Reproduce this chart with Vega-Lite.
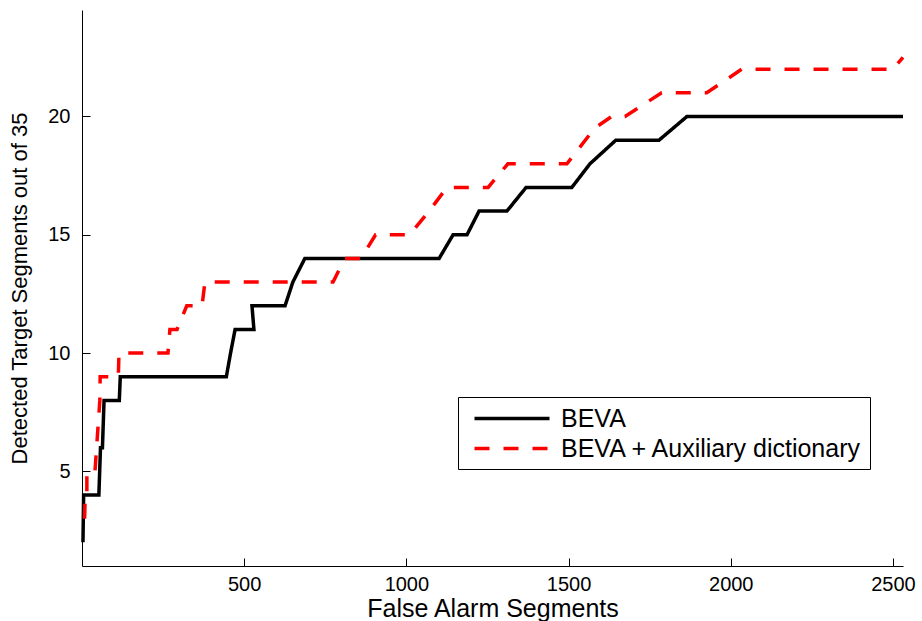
{
  "$schema": "https://vega.github.io/schema/vega-lite/v6.json",
  "width": 821,
  "height": 556,
  "autosize": {"type": "none"},
  "padding": {"left": 82, "top": 10, "right": 19, "bottom": 55},
  "background": "white",
  "config": {
    "view": {"stroke": null},
    "font": "Liberation Sans",
    "axis": {
      "grid": false,
      "domainColor": "black",
      "domainWidth": 1,
      "tickColor": "black",
      "tickWidth": 1,
      "tickSize": -8,
      "labelColor": "black",
      "labelFont": "Liberation Sans",
      "labelFontSize": 20,
      "titleFont": "Liberation Sans",
      "titleFontWeight": "normal",
      "titleColor": "black"
    }
  },
  "data": {
    "values": [
      {"method": "BEVA", "i": 0, "fa": 3, "det": 2},
      {"method": "BEVA", "i": 1, "fa": 5, "det": 4},
      {"method": "BEVA", "i": 2, "fa": 52, "det": 4},
      {"method": "BEVA", "i": 3, "fa": 57, "det": 6},
      {"method": "BEVA", "i": 4, "fa": 63, "det": 6},
      {"method": "BEVA", "i": 5, "fa": 68, "det": 8},
      {"method": "BEVA", "i": 6, "fa": 115, "det": 8},
      {"method": "BEVA", "i": 7, "fa": 118, "det": 9},
      {"method": "BEVA", "i": 8, "fa": 445, "det": 9},
      {"method": "BEVA", "i": 9, "fa": 458, "det": 10},
      {"method": "BEVA", "i": 10, "fa": 472, "det": 11},
      {"method": "BEVA", "i": 11, "fa": 530, "det": 11},
      {"method": "BEVA", "i": 12, "fa": 524, "det": 12},
      {"method": "BEVA", "i": 13, "fa": 626, "det": 12},
      {"method": "BEVA", "i": 14, "fa": 650, "det": 13},
      {"method": "BEVA", "i": 15, "fa": 687, "det": 14},
      {"method": "BEVA", "i": 16, "fa": 1101, "det": 14},
      {"method": "BEVA", "i": 17, "fa": 1144, "det": 15},
      {"method": "BEVA", "i": 18, "fa": 1187, "det": 15},
      {"method": "BEVA", "i": 19, "fa": 1224, "det": 16},
      {"method": "BEVA", "i": 20, "fa": 1310, "det": 16},
      {"method": "BEVA", "i": 21, "fa": 1369, "det": 17},
      {"method": "BEVA", "i": 22, "fa": 1510, "det": 17},
      {"method": "BEVA", "i": 23, "fa": 1566, "det": 18},
      {"method": "BEVA", "i": 24, "fa": 1646, "det": 19},
      {"method": "BEVA", "i": 25, "fa": 1779, "det": 19},
      {"method": "BEVA", "i": 26, "fa": 1865, "det": 20},
      {"method": "BEVA", "i": 27, "fa": 2531, "det": 20},

      {"method": "BEVA + Auxiliary dictionary", "i": 0, "fa": 8, "det": 3},
      {"method": "BEVA + Auxiliary dictionary", "i": 1, "fa": 10, "det": 4},
      {"method": "BEVA + Auxiliary dictionary", "i": 2, "fa": 15, "det": 4},
      {"method": "BEVA + Auxiliary dictionary", "i": 3, "fa": 15, "det": 5},
      {"method": "BEVA + Auxiliary dictionary", "i": 4, "fa": 40, "det": 5},
      {"method": "BEVA + Auxiliary dictionary", "i": 5, "fa": 50, "det": 7},
      {"method": "BEVA + Auxiliary dictionary", "i": 6, "fa": 55, "det": 8},
      {"method": "BEVA + Auxiliary dictionary", "i": 7, "fa": 56, "det": 9},
      {"method": "BEVA + Auxiliary dictionary", "i": 8, "fa": 112, "det": 9},
      {"method": "BEVA + Auxiliary dictionary", "i": 9, "fa": 114, "det": 10},
      {"method": "BEVA + Auxiliary dictionary", "i": 10, "fa": 265, "det": 10},
      {"method": "BEVA + Auxiliary dictionary", "i": 11, "fa": 271, "det": 11},
      {"method": "BEVA + Auxiliary dictionary", "i": 12, "fa": 293, "det": 11},
      {"method": "BEVA + Auxiliary dictionary", "i": 13, "fa": 323, "det": 12},
      {"method": "BEVA + Auxiliary dictionary", "i": 14, "fa": 370, "det": 12},
      {"method": "BEVA + Auxiliary dictionary", "i": 15, "fa": 379, "det": 13},
      {"method": "BEVA + Auxiliary dictionary", "i": 16, "fa": 774, "det": 13},
      {"method": "BEVA + Auxiliary dictionary", "i": 17, "fa": 810, "det": 14},
      {"method": "BEVA + Auxiliary dictionary", "i": 18, "fa": 860, "det": 14},
      {"method": "BEVA + Auxiliary dictionary", "i": 19, "fa": 905, "det": 15},
      {"method": "BEVA + Auxiliary dictionary", "i": 20, "fa": 1010, "det": 15},
      {"method": "BEVA + Auxiliary dictionary", "i": 21, "fa": 1070, "det": 16},
      {"method": "BEVA + Auxiliary dictionary", "i": 22, "fa": 1125, "det": 17},
      {"method": "BEVA + Auxiliary dictionary", "i": 23, "fa": 1252, "det": 17},
      {"method": "BEVA + Auxiliary dictionary", "i": 24, "fa": 1313, "det": 18},
      {"method": "BEVA + Auxiliary dictionary", "i": 25, "fa": 1495, "det": 18},
      {"method": "BEVA + Auxiliary dictionary", "i": 26, "fa": 1580, "det": 19.5},
      {"method": "BEVA + Auxiliary dictionary", "i": 27, "fa": 1633, "det": 20},
      {"method": "BEVA + Auxiliary dictionary", "i": 28, "fa": 1674, "det": 20},
      {"method": "BEVA + Auxiliary dictionary", "i": 29, "fa": 1787, "det": 21},
      {"method": "BEVA + Auxiliary dictionary", "i": 30, "fa": 1926, "det": 21},
      {"method": "BEVA + Auxiliary dictionary", "i": 31, "fa": 2034, "det": 22},
      {"method": "BEVA + Auxiliary dictionary", "i": 32, "fa": 2500, "det": 22},
      {"method": "BEVA + Auxiliary dictionary", "i": 33, "fa": 2531, "det": 22.5}
    ]
  },
  "mark": {"type": "line", "strokeWidth": 3.5, "strokeJoin": "miter", "strokeCap": "butt"},
  "encoding": {
    "x": {
      "field": "fa",
      "type": "quantitative",
      "scale": {"domain": [0, 2531], "nice": false, "zero": false},
      "axis": {"values": [500, 1000, 1500, 2000, 2500], "format": "d", "title": "False Alarm Segments", "titleFontSize": 25, "labelPadding": 16, "titlePadding": 2}
    },
    "y": {
      "field": "det",
      "type": "quantitative",
      "scale": {"domain": [1, 24.5], "nice": false, "zero": false},
      "axis": {"values": [5, 10, 15, 20], "format": "d", "title": "Detected Target Segments out of 35", "titleFontSize": 22, "labelPadding": 20, "titlePadding": 16}
    },
    "order": {"field": "i", "type": "quantitative"},
    "color": {
      "field": "method",
      "type": "nominal",
      "scale": {"domain": ["BEVA", "BEVA + Auxiliary dictionary"], "range": ["#000000", "#ff0000"]},
      "legend": {
        "title": null,
        "orient": "none",
        "legendX": 376,
        "legendY": 387,
        "strokeColor": "black",
        "fillColor": "white",
        "padding": 7,
        "symbolType": "M-0.4,0H5.6",
        "symbolSize": 625,
        "symbolStrokeWidth": 3.5,
        "labelFont": "Liberation Sans",
        "labelFontSize": 25,
        "labelColor": "black",
        "labelLimit": 0,
        "labelOffset": 67,
        "rowPadding": 2
      }
    },
    "strokeDash": {
      "field": "method",
      "type": "nominal",
      "scale": {"domain": ["BEVA", "BEVA + Auxiliary dictionary"], "range": [[1, 0], [15, 14]]},
      "legend": null
    }
  }
}
